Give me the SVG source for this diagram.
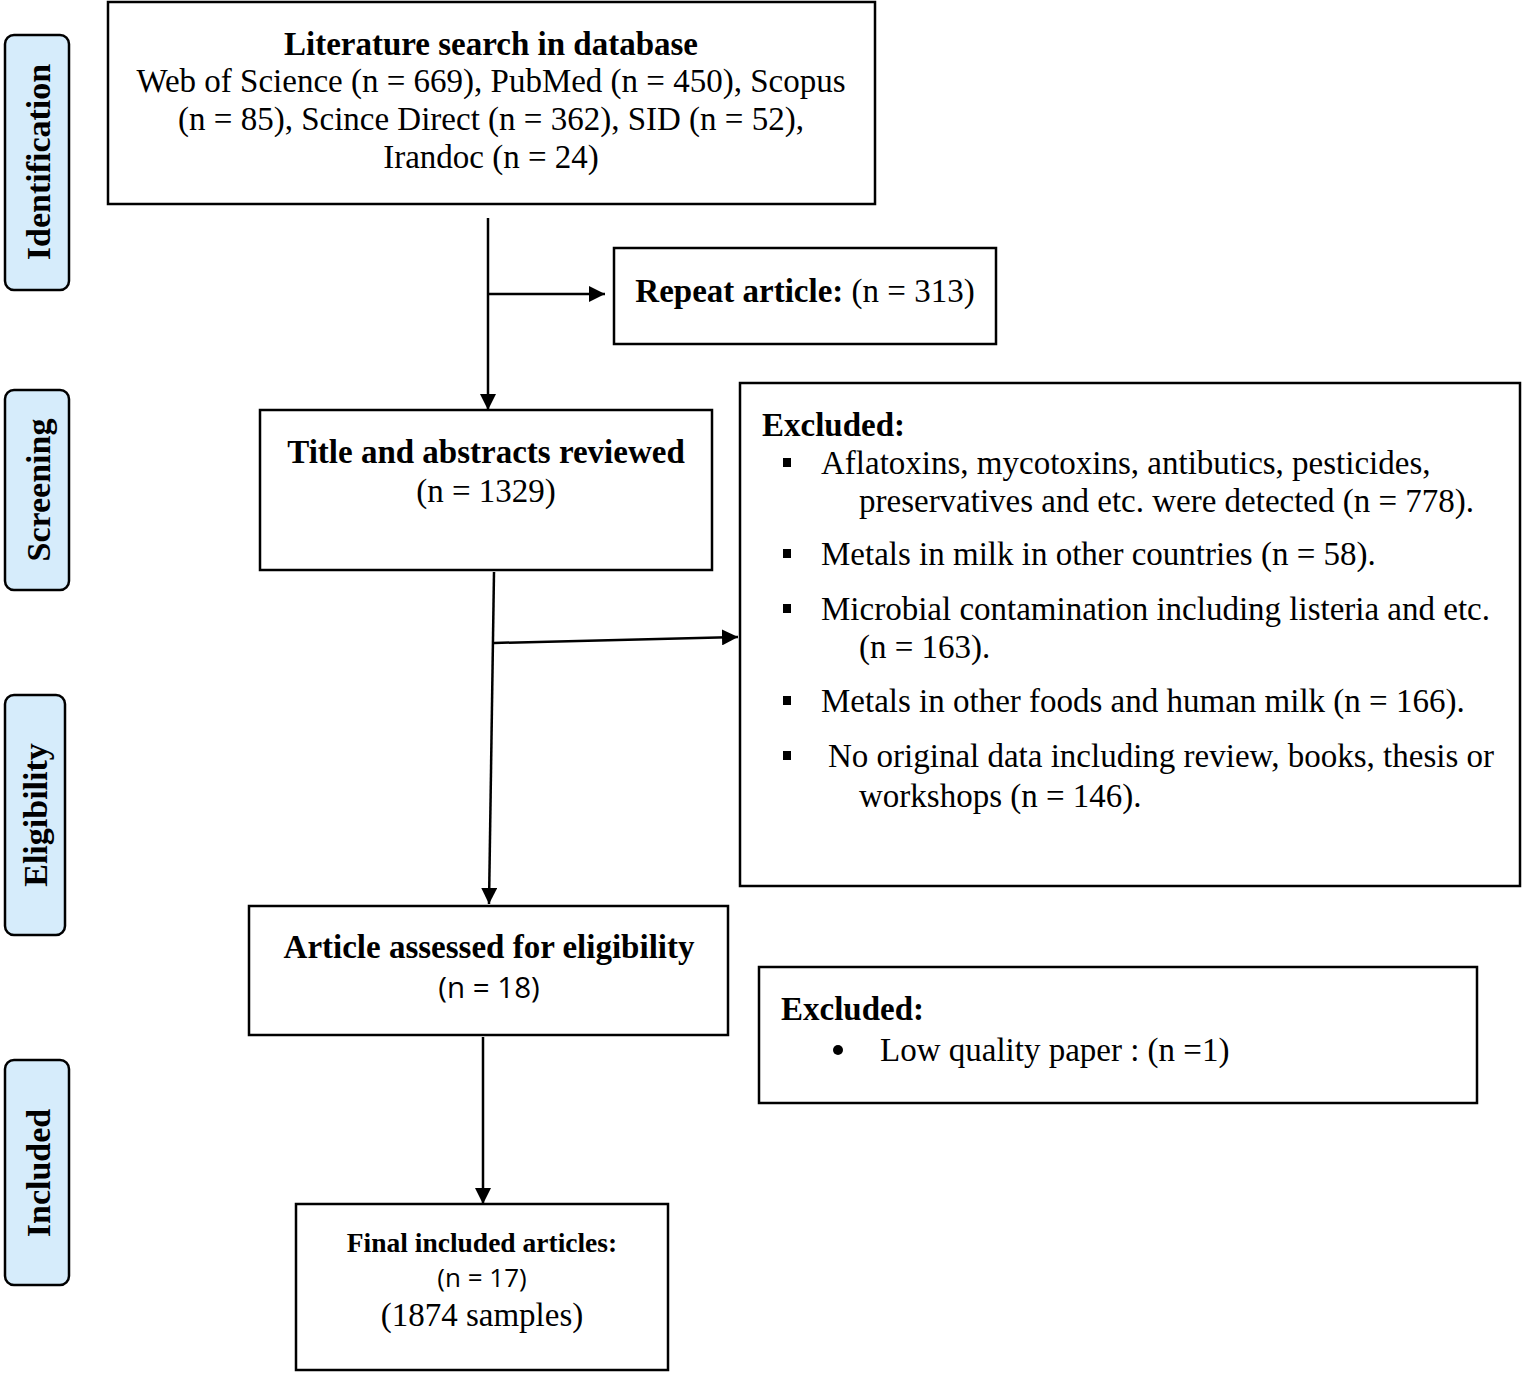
<svg xmlns="http://www.w3.org/2000/svg" width="1524" height="1375" viewBox="0 0 1524 1375">
<defs>
<marker id="ah" viewBox="0 0 10 10" refX="10" refY="5" markerWidth="6.4" markerHeight="6.4" markerUnits="strokeWidth" orient="auto">
<path d="M0,0 L10,5 L0,10 Z" fill="#000"/>
</marker>
</defs>
<style>
.box{fill:#fff;stroke:#000;stroke-width:2.5}
.side{fill:#d6ecfb;stroke:#000;stroke-width:2.5}
.t{font-family:"Liberation Serif","Times New Roman",serif;font-size:33px;fill:#000}
.b{font-weight:bold}
.s{font-family:"Open Sans","Liberation Sans",sans-serif;font-size:29.5px;fill:#000}
.m{text-anchor:middle}
.side-t{font-family:"Liberation Serif","Times New Roman",serif;font-size:34px;font-weight:bold;fill:#000;text-anchor:middle}
.c{fill:none;stroke:#000;stroke-width:2.5}
</style>
<rect width="1524" height="1375" fill="#fff"/>

<g id="side-identification">
<rect class="side" x="5" y="35" width="64" height="255" rx="9"/>
<text class="side-t" transform="translate(50,162) rotate(-90)">Identification</text>
</g>
<g id="side-screening">
<rect class="side" x="5" y="390" width="64" height="200" rx="9"/>
<text class="side-t" transform="translate(50,490) rotate(-90)">Screening</text>
</g>
<g id="side-eligibility">
<rect class="side" x="5" y="695" width="60" height="240" rx="9"/>
<text class="side-t" transform="translate(47,815) rotate(-90)">Eligibility</text>
</g>
<g id="side-included">
<rect class="side" x="5" y="1060" width="64" height="225" rx="9"/>
<text class="side-t" transform="translate(50,1173) rotate(-90)">Included</text>
</g>

<g id="connectors">
<line class="c" x1="488" y1="218" x2="488" y2="410" marker-end="url(#ah)"/>
<line class="c" x1="488" y1="294" x2="605" y2="294" marker-end="url(#ah)"/>
<line class="c" x1="494" y1="572" x2="489" y2="904" marker-end="url(#ah)"/>
<line class="c" x1="494" y1="643" x2="738" y2="637" marker-end="url(#ah)"/>
<line class="c" x1="483" y1="1037" x2="483" y2="1204" marker-end="url(#ah)"/>
</g>

<g id="node-search">
<rect class="box" x="108" y="2" width="767" height="202"/>
<text class="t b m" x="491" y="55">Literature search in database</text>
<text class="t m" x="491" y="92">Web of Science (n = 669), PubMed (n = 450), Scopus</text>
<text class="t m" x="491" y="130">(n = 85), Scince Direct (n = 362), SID (n = 52),</text>
<text class="t m" x="491" y="168">Irandoc (n = 24)</text>
</g>

<g id="node-repeat">
<rect class="box" x="614" y="248" width="382" height="96"/>
<text class="t m" x="805" y="302"><tspan class="b">Repeat article:</tspan> (n = 313)</text>
</g>

<g id="node-title">
<rect class="box" x="260" y="410" width="452" height="160"/>
<text class="t b m" x="486" y="463">Title and abstracts reviewed</text>
<text class="t m" x="486" y="502">(n = 1329)</text>
</g>

<g id="node-excluded1">
<rect class="box" x="740" y="383" width="780" height="503"/>
<text class="t b" x="762" y="436">Excluded:</text>
<rect x="783" y="458" width="8" height="9" fill="#000"/>
<text class="t" x="821" y="474">Aflatoxins, mycotoxins, antibutics, pesticides,</text>
<text class="t" x="859" y="512">preservatives and etc. were detected (n = 778).</text>
<rect x="783" y="549" width="8" height="9" fill="#000"/>
<text class="t" x="821" y="565">Metals in milk in other countries (n = 58).</text>
<rect x="783" y="604" width="8" height="9" fill="#000"/>
<text class="t" x="821" y="620">Microbial contamination including listeria and etc.</text>
<text class="t" x="859" y="658">(n = 163).</text>
<rect x="783" y="696" width="8" height="9" fill="#000"/>
<text class="t" x="821" y="712">Metals in other foods and human milk (n = 166).</text>
<rect x="783" y="751" width="8" height="9" fill="#000"/>
<text class="t" x="828" y="767">No original data including review, books, thesis or</text>
<text class="t" x="859" y="807">workshops (n = 146).</text>
</g>

<g id="node-assessed">
<rect class="box" x="249" y="906" width="479" height="129"/>
<text class="t b m" x="489" y="958">Article assessed for eligibility</text>
<text class="s m" x="489" y="998">(n = 18)</text>
</g>

<g id="node-excluded2">
<rect class="box" x="759" y="967" width="718" height="136"/>
<text class="t b" x="781" y="1020">Excluded:</text>
<circle cx="838" cy="1050" r="5" fill="#000"/>
<text class="t" x="880" y="1061">Low quality paper : (n =1)</text>
</g>

<g id="node-final">
<rect class="box" x="296" y="1204" width="372" height="166"/>
<text class="t b m" x="482" y="1252" style="font-size:27.5px">Final included articles:</text>
<text class="s m" x="482" y="1287" style="font-size:26px">(n = 17)</text>
<text class="t m" x="482" y="1326">(1874 samples)</text>
</g>
</svg>
